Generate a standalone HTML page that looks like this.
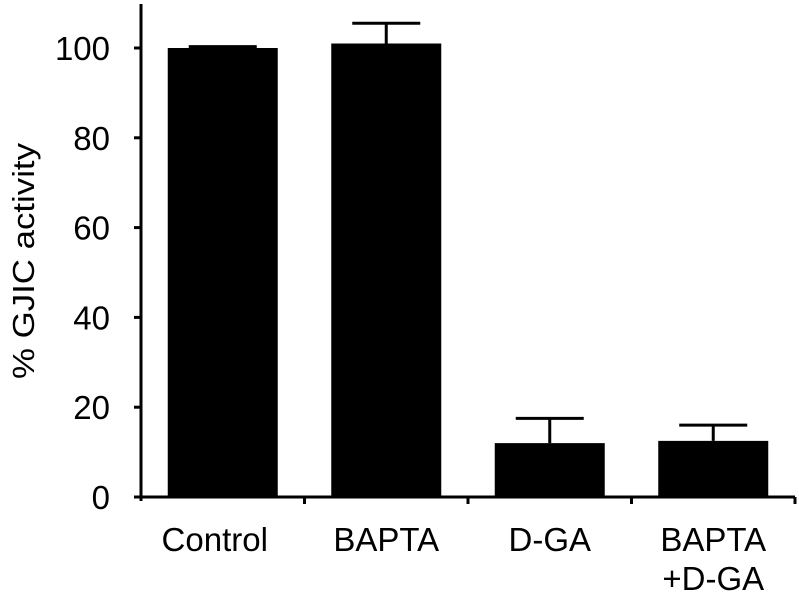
<!DOCTYPE html>
<html><head><meta charset="utf-8"><style>
html,body{margin:0;padding:0;background:#fff;}
svg{display:block;font-family:"Liberation Sans",Arial,sans-serif;}
</style></head><body>
<svg id="chart" width="799" height="597" viewBox="0 0 799 597" xmlns="http://www.w3.org/2000/svg">
<text x="0" y="0" transform="translate(34,261) rotate(-90)" text-anchor="middle" font-size="31" textLength="236" lengthAdjust="spacingAndGlyphs">% GJIC activity</text>
<g id="axes"></g>
<g id="bars"></g>
</svg>
<script>
const categories = ["Control", "BAPTA", "D-GA", "BAPTA\n+D-GA"];
const values = [100, 101, 12, 12.5];
const errors = [0.3, 4.5, 5.5, 3.5];
const yTicks = [0, 20, 40, 60, 80, 100];

const NS = "http://www.w3.org/2000/svg";
const x0 = 141, catW = 163.5, barW = 110;
const yBase = 497, yPerUnit = (497 - 48) / 100;
function yScale(v){ return yBase - v * yPerUnit; }
function xCenter(i){ return x0 + catW * (i + 0.5); }
function mk(tag, attrs, parent){
  const e = document.createElementNS(NS, tag);
  for (const k in attrs) e.setAttribute(k, attrs[k]);
  parent.appendChild(e);
  return e;
}
const axes = document.getElementById("axes");
const bars = document.getElementById("bars");

const yAxis = mk("line", {x1:x0, y1:4, x2:x0, y2:yBase + 4, stroke:"#000", "stroke-width":3}, axes);


const xAxis = mk("line", {x1:x0 - 7, y1:yBase, x2:x0 + catW * categories.length, y2:yBase, stroke:"#000", "stroke-width":3}, axes);



yTicks.forEach(function(t){
  const y = yScale(t);
  const tk = mk("line", {x1:x0 - 7, y1:y, x2:x0, y2:y, stroke:"#000", "stroke-width":3}, axes);
  
  
  const lb = mk("text", {x:110, y:y + 12, "text-anchor":"end", "font-size":33}, axes);
  lb.textContent = String(t);
  
  
});

for (let i = 1; i <= categories.length; i++){
  const x = x0 + catW * i;
  const tk = mk("line", {x1:x, y1:yBase, x2:x, y2:yBase + 7, stroke:"#000", "stroke-width":3}, axes);
  
  
}

categories.forEach(function(c, i){
  const cx = xCenter(i);
  const top = yScale(values[i]);
  const etop = yScale(values[i] + errors[i]);
  const eb = mk("line", {x1:cx, y1:etop, x2:cx, y2:top, stroke:"#000", "stroke-width":3}, bars);
  
  
  const cap = mk("line", {x1:cx - 34, y1:etop, x2:cx + 34, y2:etop, stroke:"#000", "stroke-width":3}, bars);
  
  
  const r = mk("rect", {x:cx - barW / 2, y:top, width:barW, height:yBase - top, fill:"#000"}, bars);
  
  
  c.split("\n").forEach(function(line, j){
    const t = mk("text", {x:cx - (i === 0 ? 8 : 0), y:551 + j * 39, "text-anchor":"middle", "font-size":33}, axes);
    t.textContent = line;
    
    
  });
});
</script>
</body></html>
